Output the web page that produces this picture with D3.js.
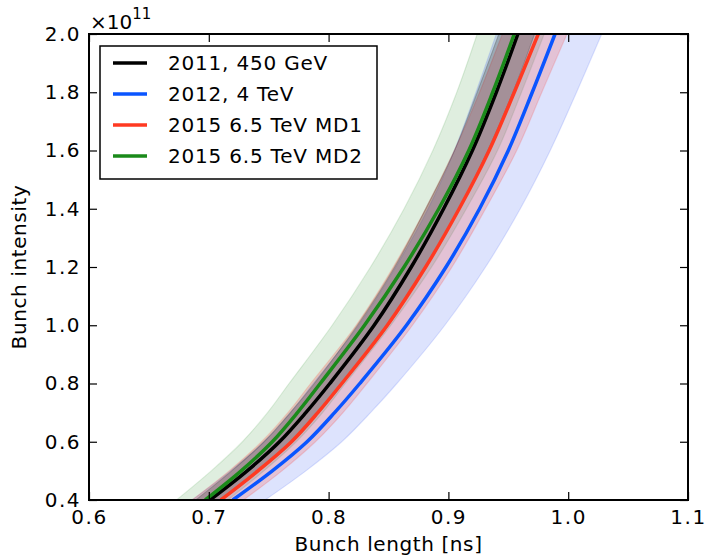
<!DOCTYPE html>
<html>
<head>
<meta charset="utf-8">
<script src="https://cdn.jsdelivr.net/npm/d3@7"></script>
<style>
  html, body { margin: 0; padding: 0; background: #fff; }
  svg { display: block; font-family: "DejaVu Sans", sans-serif; }
</style>
</head>
<body>
<svg id="chart" width="706" height="558"></svg>
<script>
// Bunch intensity levels (units of 1e11 protons)
const intensity = [0.4, 0.5, 0.6, 0.7, 0.8, 1.0, 1.2, 1.4, 1.6, 1.8, 2.0];

// Bunch length [ns] at each intensity level: central curve and band edges
const len2011 = [0.701, 0.732, 0.759, 0.781, 0.801, 0.838, 0.869, 0.896, 0.920, 0.940, 0.958];
const len2011Lo = [0.689, 0.719, 0.746, 0.768, 0.788, 0.824, 0.855, 0.881, 0.905, 0.924, 0.942];
const len2011Hi = [0.711, 0.742, 0.770, 0.792, 0.812, 0.850, 0.881, 0.909, 0.933, 0.954, 0.972];

const len2012 = [0.720, 0.753, 0.782, 0.805, 0.826, 0.865, 0.898, 0.926, 0.950, 0.970, 0.989];
const len2012Lo = [0.686, 0.718, 0.746, 0.768, 0.787, 0.825, 0.856, 0.883, 0.905, 0.923, 0.940];
const len2012Hi = [0.747, 0.781, 0.811, 0.835, 0.857, 0.897, 0.931, 0.960, 0.985, 1.007, 1.028];

const lenMD1 = [0.710, 0.741, 0.769, 0.791, 0.811, 0.849, 0.881, 0.909, 0.934, 0.955, 0.975];
const lenMD1Lo = [0.686, 0.717, 0.744, 0.766, 0.785, 0.823, 0.854, 0.881, 0.905, 0.926, 0.945];
const lenMD1Hi = [0.729, 0.761, 0.789, 0.812, 0.832, 0.870, 0.903, 0.931, 0.957, 0.978, 0.999];

const lenMD2 = [0.697, 0.727, 0.753, 0.774, 0.793, 0.830, 0.863, 0.892, 0.917, 0.937, 0.955];
const lenMD2Lo = [0.673, 0.702, 0.728, 0.749, 0.767, 0.803, 0.835, 0.863, 0.887, 0.907, 0.924];
const lenMD2Hi = [0.716, 0.746, 0.773, 0.795, 0.814, 0.852, 0.886, 0.915, 0.941, 0.961, 0.980];

const seriesNames = ["2011, 450 GeV", "2012, 4 TeV", "2015 6.5 TeV MD1", "2015 6.5 TeV MD2"];
const seriesColors = ["#000000", "#0a55ff", "#ff3a22", "#1a8a1a"];
const bandColors = ["#000000", "#2a4ff0", "#ff2a20", "#1a8a1a"];
const bandOpacity = [0.2, 0.16, 0.18, 0.14];

const xTicks = [0.6, 0.7, 0.8, 0.9, 1.0, 1.1];
const yTicks = [0.4, 0.6, 0.8, 1.0, 1.2, 1.4, 1.6, 1.8, 2.0];

const series = [
  { name: seriesNames[0], mid: len2011, lo: len2011Lo, hi: len2011Hi },
  { name: seriesNames[1], mid: len2012, lo: len2012Lo, hi: len2012Hi },
  { name: seriesNames[2], mid: lenMD1, lo: lenMD1Lo, hi: lenMD1Hi },
  { name: seriesNames[3], mid: lenMD2, lo: lenMD2Lo, hi: lenMD2Hi }
];

const svg = d3.select("#chart");
const margin = { left: 89, right: 18, top: 34, bottom: 58 };
const W = 706, H = 558;
const x = d3.scaleLinear().domain([0.6, 1.1]).range([margin.left, W - margin.right]);
const y = d3.scaleLinear().domain([0.4, 2.0]).range([H - margin.bottom, margin.top]);
const smooth = d3.curveCatmullRom.alpha(0.5);

svg.append("defs").append("clipPath").attr("id", "plot-clip")
  .append("rect")
  .attr("x", x(0.6)).attr("y", y(2.0))
  .attr("width", x(1.1) - x(0.6)).attr("height", y(0.4) - y(2.0));

const plot = svg.append("g").attr("clip-path", "url(#plot-clip)");

// Uncertainty bands (bunch length range at each intensity)
const bandOrder = [3, 1, 2, 0];
bandOrder.forEach(i => {
  const s = series[i];
  const area = d3.area()
    .y((d, k) => y(intensity[k]))
    .x0((d, k) => x(s.lo[k]))
    .x1((d, k) => x(s.hi[k]))
    .curve(smooth);
  plot.append("path")
    .attr("d", area(intensity))
    .attr("fill", bandColors[i])
    .attr("fill-opacity", bandOpacity[i])
    .attr("stroke", bandColors[i])
    .attr("stroke-opacity", bandOpacity[i] * 0.9)
    .attr("stroke-width", 1.2);
});

// Central curves
const lineOrder = [1, 2, 0, 3];
lineOrder.forEach(i => {
  const s = series[i];
  const line = d3.line()
    .y((d, k) => y(intensity[k]))
    .x((d, k) => x(s.mid[k]))
    .curve(smooth);
  plot.append("path")
    .attr("d", line(intensity))
    .attr("fill", "none")
    .attr("stroke", seriesColors[i])
    .attr("stroke-width", 3.5);
});

// Axes with inward ticks on all four sides
const fmt = d3.format(".1f");
const axisStyle = g => {
  g.select(".domain").remove();
  g.selectAll(".tick line").attr("stroke", "#000").attr("stroke-width", 1.2);
  g.selectAll(".tick text").attr("fill", "#000").style("font-size", "20px")
    .style("letter-spacing", "1.5px")
    .style("font-family", "'DejaVu Sans', sans-serif");
};

svg.append("g").attr("transform", `translate(0,${y(0.4)})`)
  .call(d3.axisBottom(x).tickValues(xTicks).tickFormat(fmt).tickSize(-8).tickPadding(10))
  .call(axisStyle);
svg.append("g").attr("transform", `translate(0,${y(2.0)})`)
  .call(d3.axisTop(x).tickValues(xTicks).tickFormat("").tickSize(-8))
  .call(axisStyle);
svg.append("g").attr("transform", `translate(${x(0.6)},0)`)
  .call(d3.axisLeft(y).tickValues(yTicks).tickFormat(fmt).tickSize(-8).tickPadding(8))
  .call(axisStyle);
svg.append("g").attr("transform", `translate(${x(1.1)},0)`)
  .call(d3.axisRight(y).tickValues(yTicks).tickFormat("").tickSize(-8))
  .call(axisStyle);

// Plot frame
svg.append("rect")
  .attr("x", x(0.6)).attr("y", y(2.0))
  .attr("width", x(1.1) - x(0.6)).attr("height", y(0.4) - y(2.0))
  .attr("fill", "none").attr("stroke", "#000").attr("stroke-width", 2);

// Axis labels
svg.append("text")
  .attr("x", (x(0.6) + x(1.1)) / 2).attr("y", 551)
  .attr("text-anchor", "middle").style("font-size", "20px").style("letter-spacing", "0.6px")
  .text("Bunch length [ns]");
svg.append("text")
  .attr("transform", `translate(26,${(y(0.4) + y(2.0)) / 2}) rotate(-90)`)
  .attr("text-anchor", "middle").style("font-size", "20px").style("letter-spacing", "0.6px")
  .text("Bunch intensity");

// Offset multiplier
const mult = svg.append("text").attr("x", x(0.6) + 1).attr("y", 29).style("font-size", "20px");
mult.append("tspan").text("\u00d710");
mult.append("tspan").attr("dy", -10).style("font-size", "15px").text("11");

// Legend
const lg = svg.append("g");
lg.append("rect")
  .attr("x", 100).attr("y", 46).attr("width", 277).attr("height", 133)
  .attr("fill", "#fff").attr("stroke", "#000").attr("stroke-width", 1.5);
series.forEach((s, i) => {
  const yy = 63 + i * 31;
  lg.append("line")
    .attr("x1", 113).attr("x2", 147).attr("y1", yy).attr("y2", yy)
    .attr("stroke", seriesColors[i]).attr("stroke-width", 3.5);
  lg.append("text")
    .attr("x", 168).attr("y", yy + 7).style("font-size", "20px").style("letter-spacing", "0.8px")
    .text(s.name);
});
</script>
</body>
</html>
